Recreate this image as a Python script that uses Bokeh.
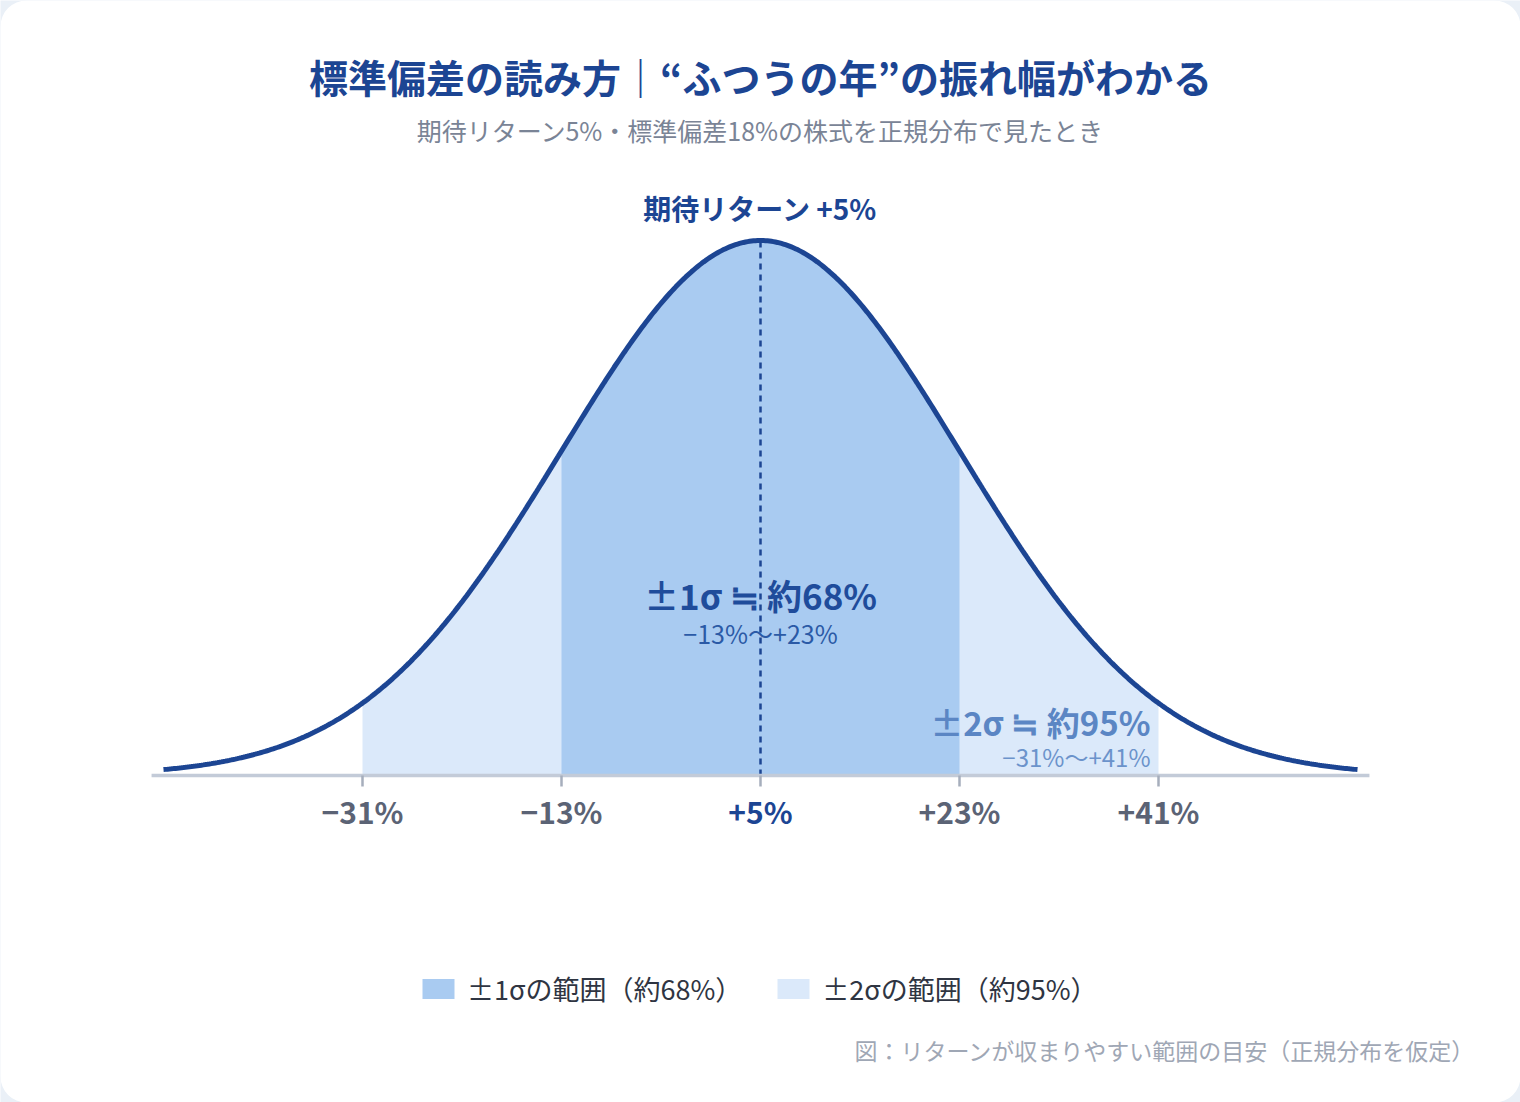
import numpy as np
from bokeh.plotting import figure
from bokeh.models import Range1d, Label, Legend, LegendItem, BoxAnnotation
from bokeh.core.properties import value
from bokeh.embed import file_html
from bokeh.resources import INLINE

# ---------------- data ----------------
MEAN = 5.0          # expected return (%)
SD = 18.0           # standard deviation (%)
TICK_VALUES = [-31, -13, 5, 23, 41]
TICK_LABELS = ["−31%", "−13%", "+5%", "+23%", "+41%"]
BAND_SIGMAS = [2, 1]
BAND_LABELS = ["±2σの範囲（約95%）", "±1σの範囲（約68%）"]
CURVE_SIGMA_SPAN = 3.0

TITLE = "標準偏差の読み方｜“ふつうの年”の振れ幅がわかる"
SUBTITLE = "期待リターン5%・標準偏差18%の株式を正規分布で見たとき"
MEAN_LABEL = "期待リターン +5%"
ONE_SIGMA_TEXT = "±1σ ≒ 約68%"
ONE_SIGMA_RANGE = "−13%〜+23%"
TWO_SIGMA_TEXT = "±2σ ≒ 約95%"
TWO_SIGMA_RANGE = "−31%〜+41%"
FOOTNOTE = "図：リターンが収まりやすい範囲の目安（正規分布を仮定）"

# ---------------- style ----------------
FONT = "Noto Sans CJK JP"
W, H = 1520, 1102
BLUE = "#1c4593"
C1 = "#a9cbf1"
C2 = "#dbe9fa"
GRAY_TICK = "#5b6375"
AXIS_C = "#c3cbd8"

def pdf(x):
    return np.exp(-0.5 * ((x - MEAN) / SD) ** 2) / (SD * np.sqrt(2 * np.pi))

PEAK = pdf(MEAN)
PX_PER_SD = 199.0
PX_PER_PCT = PX_PER_SD / SD
X_START = MEAN - (W / 2) / PX_PER_PCT
X_END = MEAN + (W / 2) / PX_PER_PCT
PEAK_PX = 535.0
BASE_FROM_BOTTOM = 327.0
Y_PER_PX = PEAK / PEAK_PX
Y_START = -BASE_FROM_BOTTOM * Y_PER_PX
Y_END = (H - BASE_FROM_BOTTOM) * Y_PER_PX

p = figure(width=W, height=H, x_range=Range1d(X_START, X_END), y_range=Range1d(Y_START, Y_END),
           min_border=0, x_axis_location=None, y_axis_location=None, toolbar_location=None,
           output_backend="svg", outline_line_color=None,
           background_fill_color="#eaf0f7", border_fill_color="#eaf0f7")
p.xgrid.visible = False
p.ygrid.visible = False

card = BoxAnnotation(left=X_START, right=X_END, bottom=Y_START, top=Y_END,
                     fill_color="white", fill_alpha=1.0, line_color=None,
                     border_radius=26, level="underlay")
p.add_layout(card)

# bands
band_renderers = {}
for s, col in zip(BAND_SIGMAS, [C2, C1]):
    xs = np.linspace(MEAN - s * SD, MEAN + s * SD, 300)
    r = p.varea(x=xs, y1=np.zeros_like(xs), y2=pdf(xs), fill_color=col)
    band_renderers[s] = r

# mean dashed line
p.segment(x0=[MEAN], y0=[0], x1=[MEAN], y1=[PEAK], line_color=BLUE, line_width=2.5, line_dash="6 5")

# curve
xc = np.linspace(MEAN - CURVE_SIGMA_SPAN * SD, MEAN + CURVE_SIGMA_SPAN * SD, 600)
p.line(xc, pdf(xc), line_color=BLUE, line_width=5)

# axis baseline and ticks
AX_SPAN = 3.06
p.segment(x0=[MEAN - AX_SPAN * SD], y0=[0], x1=[MEAN + AX_SPAN * SD], y1=[0], line_color=AXIS_C, line_width=3.5)
TICK_LEN = 11 * Y_PER_PX
p.segment(x0=TICK_VALUES, y0=[0] * 5, x1=TICK_VALUES, y1=[-TICK_LEN] * 5, line_color="#a6aebc", line_width=2.5)
tick_colors = [BLUE if t == MEAN else GRAY_TICK for t in TICK_VALUES]
p.text(x=TICK_VALUES, y=[-35 * Y_PER_PX] * 5, text=TICK_LABELS, text_color=tick_colors,
       text_font=value(FONT), text_font_size="30px", text_font_style="bold",
       text_align="center", text_baseline="middle")

# in-plot labels
p.text(x=[MEAN], y=[PEAK * 568 / 535], text=[MEAN_LABEL], text_color=BLUE, text_font=value(FONT),
       text_font_size="28px", text_font_style="bold", text_align="center", text_baseline="middle")
p.text(x=[MEAN], y=[181 * Y_PER_PX], text=[ONE_SIGMA_TEXT], text_color="#1f4c9b", text_font=value(FONT),
       text_font_size="35px", text_font_style="bold", text_align="center", text_baseline="middle")
p.text(x=[MEAN], y=[143 * Y_PER_PX], text=[ONE_SIGMA_RANGE], text_color="#2b5aa6", text_font=value(FONT),
       text_font_size="25px", text_align="center", text_baseline="middle")
RX = MEAN + 2 * SD - 8 / PX_PER_PCT
p.text(x=[RX], y=[54 * Y_PER_PX], text=[TWO_SIGMA_TEXT], text_color="#5b86c4", text_font=value(FONT),
       text_font_size="33px", text_font_style="bold", text_align="right", text_baseline="middle")
p.text(x=[RX], y=[19 * Y_PER_PX], text=[TWO_SIGMA_RANGE], text_color="#6b93cb", text_font=value(FONT),
       text_font_size="24px", text_align="right", text_baseline="middle")

# titles
p.add_layout(Label(x=760, y=H - 75, x_units="screen", y_units="screen", text=TITLE,
                   text_font=FONT, text_font_size="39px", text_font_style="bold", text_color=BLUE,
                   text_align="center", text_baseline="middle"))
p.add_layout(Label(x=760, y=H - 129, x_units="screen", y_units="screen", text=SUBTITLE,
                   text_font=FONT, text_font_size="25px", text_color="#7a8496",
                   text_align="center", text_baseline="middle"))
p.add_layout(Label(x=1475, y=H - 1049, x_units="screen", y_units="screen", text=FOOTNOTE,
                   text_font=FONT, text_font_size="23px", text_color="#9fa7b5",
                   text_align="right", text_baseline="middle"))

legend = Legend(items=[LegendItem(label=BAND_LABELS[1], renderers=[band_renderers[1]]),
                       LegendItem(label=BAND_LABELS[0], renderers=[band_renderers[2]])],
                orientation="horizontal", location=(418, H - 1008),
                label_text_font=FONT, label_text_font_size="27px", label_text_color="#2f3542",
                glyph_width=40, glyph_height=25, label_standoff=9, spacing=31,
                padding=0, margin=0, border_line_color=None, background_fill_alpha=0,
                label_height=25)
p.add_layout(legend)

open("out.html", "w").write(file_html(p, INLINE))
